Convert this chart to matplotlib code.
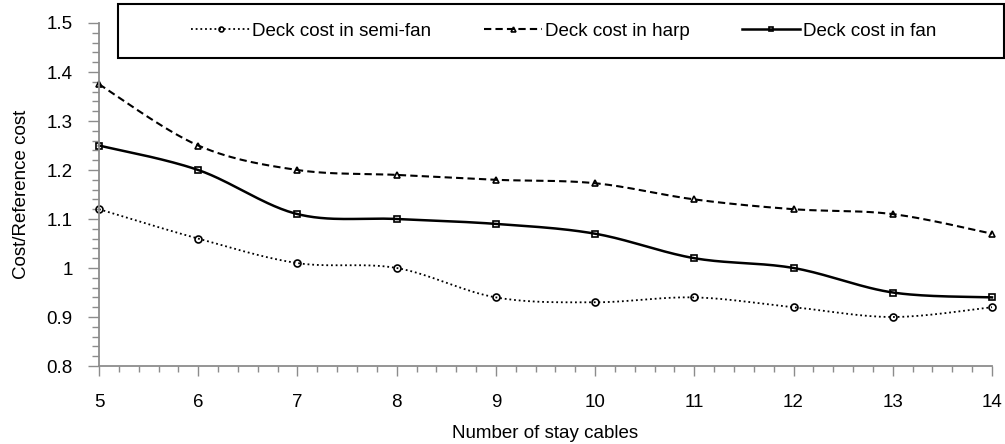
import numpy as np
import matplotlib.pyplot as plt
from matplotlib.legend_handler import HandlerLine2DCompound
from matplotlib.lines import Line2D
from matplotlib.patches import Rectangle
from matplotlib.ticker import MultipleLocator

plt.rcParams['font.family'] = ['Liberation Sans', 'DejaVu Sans']

cables = [5, 6, 7, 8, 9, 10, 11, 12, 13, 14]
semi_fan = [1.12, 1.06, 1.01, 1.00, 0.94, 0.93, 0.94, 0.92, 0.90, 0.92]
harp = [1.375, 1.25, 1.20, 1.19, 1.18, 1.173, 1.14, 1.12, 1.11, 1.07]
fan = [1.25, 1.20, 1.11, 1.10, 1.09, 1.07, 1.02, 1.00, 0.95, 0.94]
y_ticks = [0.8, 0.9, 1.0, 1.1, 1.2, 1.3, 1.4, 1.5]
y_labels = ['0.8', '0.9', '1', '1.1', '1.2', '1.3', '1.4', '1.5']

N = 30  # samples per segment of the smoothed curve


def smooth(x, y, n=N):
    # Bezier smoothing through every point (Catmull-Rom style control points)
    p = np.column_stack([x, y]).astype(float)
    p = np.vstack([p[0], p, p[-1]])
    out = []
    t = np.linspace(0, 1, n, endpoint=False)[:, None]
    for i in range(1, len(p) - 2):
        p0, p1, p2, p3 = p[i - 1], p[i], p[i + 1], p[i + 2]
        c1 = p1 + (p2 - p0) / 6
        c2 = p2 - (p3 - p1) / 6
        seg = ((1 - t) ** 3) * p1 + 3 * ((1 - t) ** 2) * t * c1 + 3 * (1 - t) * t ** 2 * c2 + t ** 3 * p2
        out.append(seg)
    out.append(p[-2][None, :])
    s = np.vstack(out)
    return s[:, 0], s[:, 1]


W, H = 1005, 444
fig = plt.figure(figsize=(W / 100, H / 100), dpi=100)
ax = fig.add_axes([99 / W, 1 - 366 / H, (992 - 99) / W, (366 - 23) / H])

styles = [
    (semi_fan, 'Deck cost in semi-fan', (0, (1, 1.6)), 'o', 1.3, 5),
    (harp, 'Deck cost in harp', (0, (3.5, 2)), '^', 1.5, 5),
    (fan, 'Deck cost in fan', '-', 's', 1.8, 4.6),
]
handles, labels = [], []
for vals, label, ls, mk, lw, ms in styles:
    sx, sy = smooth(cables, vals)
    ax.plot(sx, sy, color='black', linestyle=ls, linewidth=lw, marker=mk,
            markevery=N, markersize=ms, markerfacecolor='none',
            markeredgecolor='black', markeredgewidth=1.2, clip_on=False)
    handles.append(Line2D([], [], color='black', linestyle=ls, linewidth=lw, marker=mk,
                          markersize=ms * 0.7, markerfacecolor='none',
                          markeredgecolor='black', markeredgewidth=1.2))
    labels.append(label)

ax.set_xlim(5, 14)
ax.set_ylim(0.8, 1.5)
ax.xaxis.set_major_locator(MultipleLocator(1))
ax.xaxis.set_minor_locator(MultipleLocator(0.2))
ax.yaxis.set_minor_locator(MultipleLocator(0.02))
ax.set_yticks(y_ticks)
ax.set_yticklabels(y_labels)

for side in ['top', 'right']:
    ax.spines[side].set_visible(False)
for side in ['left', 'bottom']:
    ax.spines[side].set_color('#8c8c8c')
    ax.spines[side].set_linewidth(1.3)

ax.tick_params(axis='x', which='major', length=7, width=1, color='#8c8c8c', pad=13, labelsize=13.5)
ax.tick_params(axis='x', which='minor', length=4, width=1, color='#8c8c8c')
ax.tick_params(axis='y', which='major', length=8, width=1, color='#8c8c8c', pad=11, labelsize=13.5)
ax.tick_params(axis='y', which='minor', length=5, width=1, color='#8c8c8c')

ax.set_xlabel('Number of stay cables', fontsize=13.5, labelpad=10)
ax.set_ylabel('Cost/Reference cost', fontsize=13.5, labelpad=12)

# legend frame spans wider than the plot area
fig.add_artist(Rectangle((118 / W, 1 - 58 / H), (1004 - 118) / W, 54 / H, transform=fig.transFigure,
                         fill=False, edgecolor='black', linewidth=1.5))
fig.legend(handles, labels, loc='center', ncol=3, bbox_to_anchor=(564 / W, 1 - 31 / H),
           fontsize=13.5, handlelength=3.1, columnspacing=2.8, handletextpad=0.15,
           numpoints=1, frameon=False,
           handler_map={Line2D: HandlerLine2DCompound()})

fig.savefig('out.png', dpi=100)
